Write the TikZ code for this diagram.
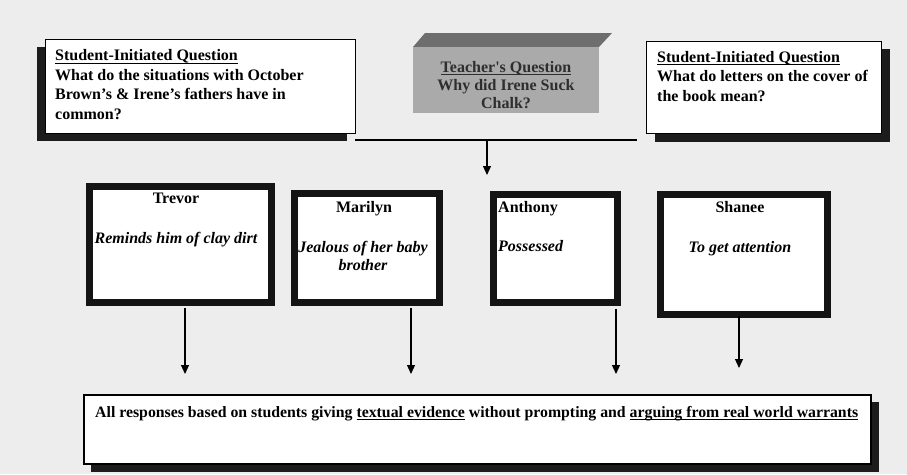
\documentclass[tikz,border=0pt]{standalone}
\usepackage{fontspec}
\setmainfont{Liberation Serif}
\usetikzlibrary{arrows.meta}
\newcommand\myul[1]{\setbox0\hbox{#1}\rlap{\vrule width \wd0 height -2pt depth 3.1pt}\box0\relax}
\definecolor{bg}{HTML}{EDEDED}
\definecolor{shadowc}{HTML}{1C1C1C}
\definecolor{topface}{HTML}{6E6E6E}
\definecolor{frontface}{HTML}{AAAAAA}
\definecolor{tqtext}{HTML}{2E2E2E}
\begin{document}
\begin{tikzpicture}[x=1pt,y=-1pt,
  qbox/.style={draw=black, line width=1.2pt, fill=white, inner sep=0pt, anchor=north west},
  frame/.style={draw=black!92, line width=6.5pt, fill=white, inner sep=0pt, anchor=north west},
  shadowrect/.style={fill=shadowc},
  arr/.style={line width=1.1pt, -{Triangle[width=8pt,length=9pt]}},
  txt/.style={font=\fontsize{16}{19.5}\selectfont\bfseries, inner sep=0pt, align=left, anchor=base west},
  ctxt/.style={font=\fontsize{16}{18}\selectfont\bfseries, inner sep=0pt, align=center, anchor=base},
  itxt/.style={font=\fontsize{16}{18}\selectfont\bfseries\itshape, inner sep=0pt, align=center, anchor=base}
]
\fill[bg] (0,0) rectangle (907,474);
\useasboundingbox (0,0) rectangle (907,474);

% top-left student question
\fill[shadowrect] (37,47) rectangle (347,141);
\node[qbox, minimum width=310pt, minimum height=94pt] (q1) at (45,39) {};
\node[txt] (q1t) at (55,119) {\myul{Student-Initiated Question}\\What do the situations with October\\Brown’s \& Irene’s fathers have in\\common?};

% teacher's question (3D block)
\fill[topface] (413,47) -- (425,33) -- (612,33) -- (599,47) -- cycle;
\node[fill=frontface, minimum width=186pt, minimum height=66pt, inner sep=0pt, anchor=north west] (tq) at (413,47) {};
\node[ctxt, text=tqtext] (tqt) at (506,108) {\myul{Teacher\textquotesingle s Question}\\Why did Irene Suck\\Chalk?};

% top-right student question
\fill[shadowrect] (655,49) rectangle (890,142);
\node[qbox, minimum width=235pt, minimum height=92pt] (q2) at (646,41) {};
\node[txt] (q2t) at (657,101) {\myul{Student-Initiated Question}\\What do letters on the cover of\\the book mean?};

% connector from teacher question
\coordinate (hl) at (355,140);
\coordinate (hr) at (637,140);
\coordinate (hm) at (487,140);
\coordinate (hd) at (487,175);
\draw[line width=1.2pt] (hl) -- (hr);
\draw[arr] (hm) -- (hd);

% student responses
\node[frame, minimum width=182pt, minimum height=116pt] (trevor) at (86.25,183.25) {};
\node[ctxt] at (176,203) {Trevor};
\node[itxt] at (176,243) {Reminds him of clay dirt};

\node[frame, minimum width=145pt, minimum height=109pt] (marilyn) at (291.25,190.25) {};
\node[ctxt] at (364,212) {Marilyn};
\node[itxt] at (363,270) {Jealous of her baby\\brother};

\node[frame, minimum width=124pt, minimum height=108pt] (anthony) at (490.25,191.25) {};
\node[txt] at (498,212) {Anthony};
\node[itxt, anchor=base west] at (498,251) {Possessed};

\node[frame, minimum width=167pt, minimum height=120pt] (shanee) at (657.25,191.25) {};
\node[ctxt] at (740,212) {Shanee};
\node[itxt] at (740,252) {To get attention};

% bottom summary box
\fill[shadowrect] (91,402) rectangle (879,472);
\node[qbox, line width=1.6pt, minimum width=787pt, minimum height=69pt] (summary) at (83,394) {};
\node[txt, font=\fontsize{15.8}{19}\selectfont\bfseries] (sumt) at (95,417) {All responses based on students giving \myul{textual evidence} without prompting and \myul{arguing from real world warrants}};

% arrows to summary
\coordinate (a1) at (185,308); \coordinate (b1) at (185,374);
\coordinate (a2) at (411,308); \coordinate (b2) at (411,374);
\coordinate (a3) at (616,309); \coordinate (b3) at (616,374);
\coordinate (a4) at (739,316); \coordinate (b4) at (739,368);
\draw[arr] (a1) -- (b1);
\draw[arr] (a2) -- (b2);
\draw[arr] (a3) -- (b3);
\draw[arr] (a4) -- (b4);
\end{tikzpicture}
\end{document}
